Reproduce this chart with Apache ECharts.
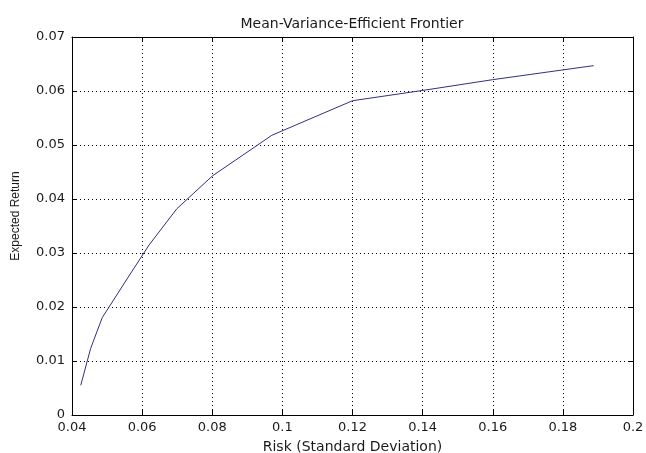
<!DOCTYPE html>
<html>
<head>
<meta charset="utf-8">
<script src="https://cdn.jsdelivr.net/npm/echarts@6/dist/echarts.min.js"></script>
<style>html,body{margin:0;padding:0;background:#fff;}#c{width:646px;height:453px;}</style>
</head>
<body>
<div id="c"></div>
<script>
var titleText = 'Mean-Variance-Efficient Frontier';
var xName = 'Risk (Standard Deviation)';
var yName = 'Expected Return';
var risk = [0.0425, 0.0453, 0.0486, 0.0555, 0.0620, 0.0699, 0.0801, 0.0970, 0.1200, 0.1410, 0.1600, 0.1888];
var expRet = [0.0055, 0.0123, 0.0180, 0.0250, 0.0315, 0.0382, 0.0443, 0.0518, 0.0582, 0.0602, 0.0621, 0.0647];
var xMin = 0.04, xMax = 0.2, xStep = 0.02;
var yMin = 0, yMax = 0.07, yStep = 0.01;

var wideFont = '"DejaVu Sans", "Liberation Sans", Arial, sans-serif';
var narrowFont = '"Liberation Sans", Arial, sans-serif';
var txtColor = '#1a1a1a';
function fmt(v){ return String(+(+v).toFixed(4)); }

var pts = risk.map(function(x,i){ return [x, expRet[i]]; });

var chart = echarts.init(document.getElementById('c'), null, {renderer:'canvas'});
var axisLine = {show:true, onZero:false, lineStyle:{color:'#000', width:1}};
var tick = {show:true, inside:true, length:5, lineStyle:{color:'#000'}};
var split = {show:true, lineStyle:{color:'#000', width:1, type:[1,3]}};
chart.setOption({
  animation:false,
  backgroundColor:'#fff',
  title:{
    text:titleText, left:347, top:12, textAlign:'center',
    textStyle:{fontFamily:wideFont, fontSize:14, fontWeight:'normal', color:txtColor}
  },
  grid:{left:72, right:13, top:37, bottom:38, containLabel:false, outerBoundsMode:'none'},
  xAxis:[{
    type:'value', min:xMin, max:xMax, interval:xStep, position:'bottom',
    name:xName, nameLocation:'middle', nameGap:25,
    nameTextStyle:{fontFamily:wideFont, fontSize:14, color:txtColor},
    axisLine:axisLine, axisTick:tick, splitLine:split,
    axisLabel:{formatter:fmt, margin:6, fontFamily:wideFont, fontSize:13, color:txtColor}
  },{
    type:'value', min:xMin, max:xMax, interval:xStep, position:'top',
    axisLine:axisLine, axisTick:tick, splitLine:{show:false}, axisLabel:{show:false}
  }],
  yAxis:[{
    type:'value', min:yMin, max:yMax, interval:yStep, position:'left',
    name:yName, nameLocation:'middle', nameGap:50, nameRotate:90,
    nameTextStyle:{fontFamily:narrowFont, fontSize:12, color:txtColor, padding:[0,0,0,20]},
    axisLine:axisLine, axisTick:tick, splitLine:split,
    axisLabel:{formatter:fmt, margin:7, fontFamily:wideFont, fontSize:13, color:txtColor}
  },{
    type:'value', min:yMin, max:yMax, interval:yStep, position:'right',
    axisLine:axisLine, axisTick:tick, splitLine:{show:false}, axisLabel:{show:false}
  }],
  series:[{
    type:'line', data:pts, xAxisIndex:0, yAxisIndex:0,
    showSymbol:false, symbol:'none',
    lineStyle:{color:'#30307f', width:1}
  }]
});
</script>
</body>
</html>
